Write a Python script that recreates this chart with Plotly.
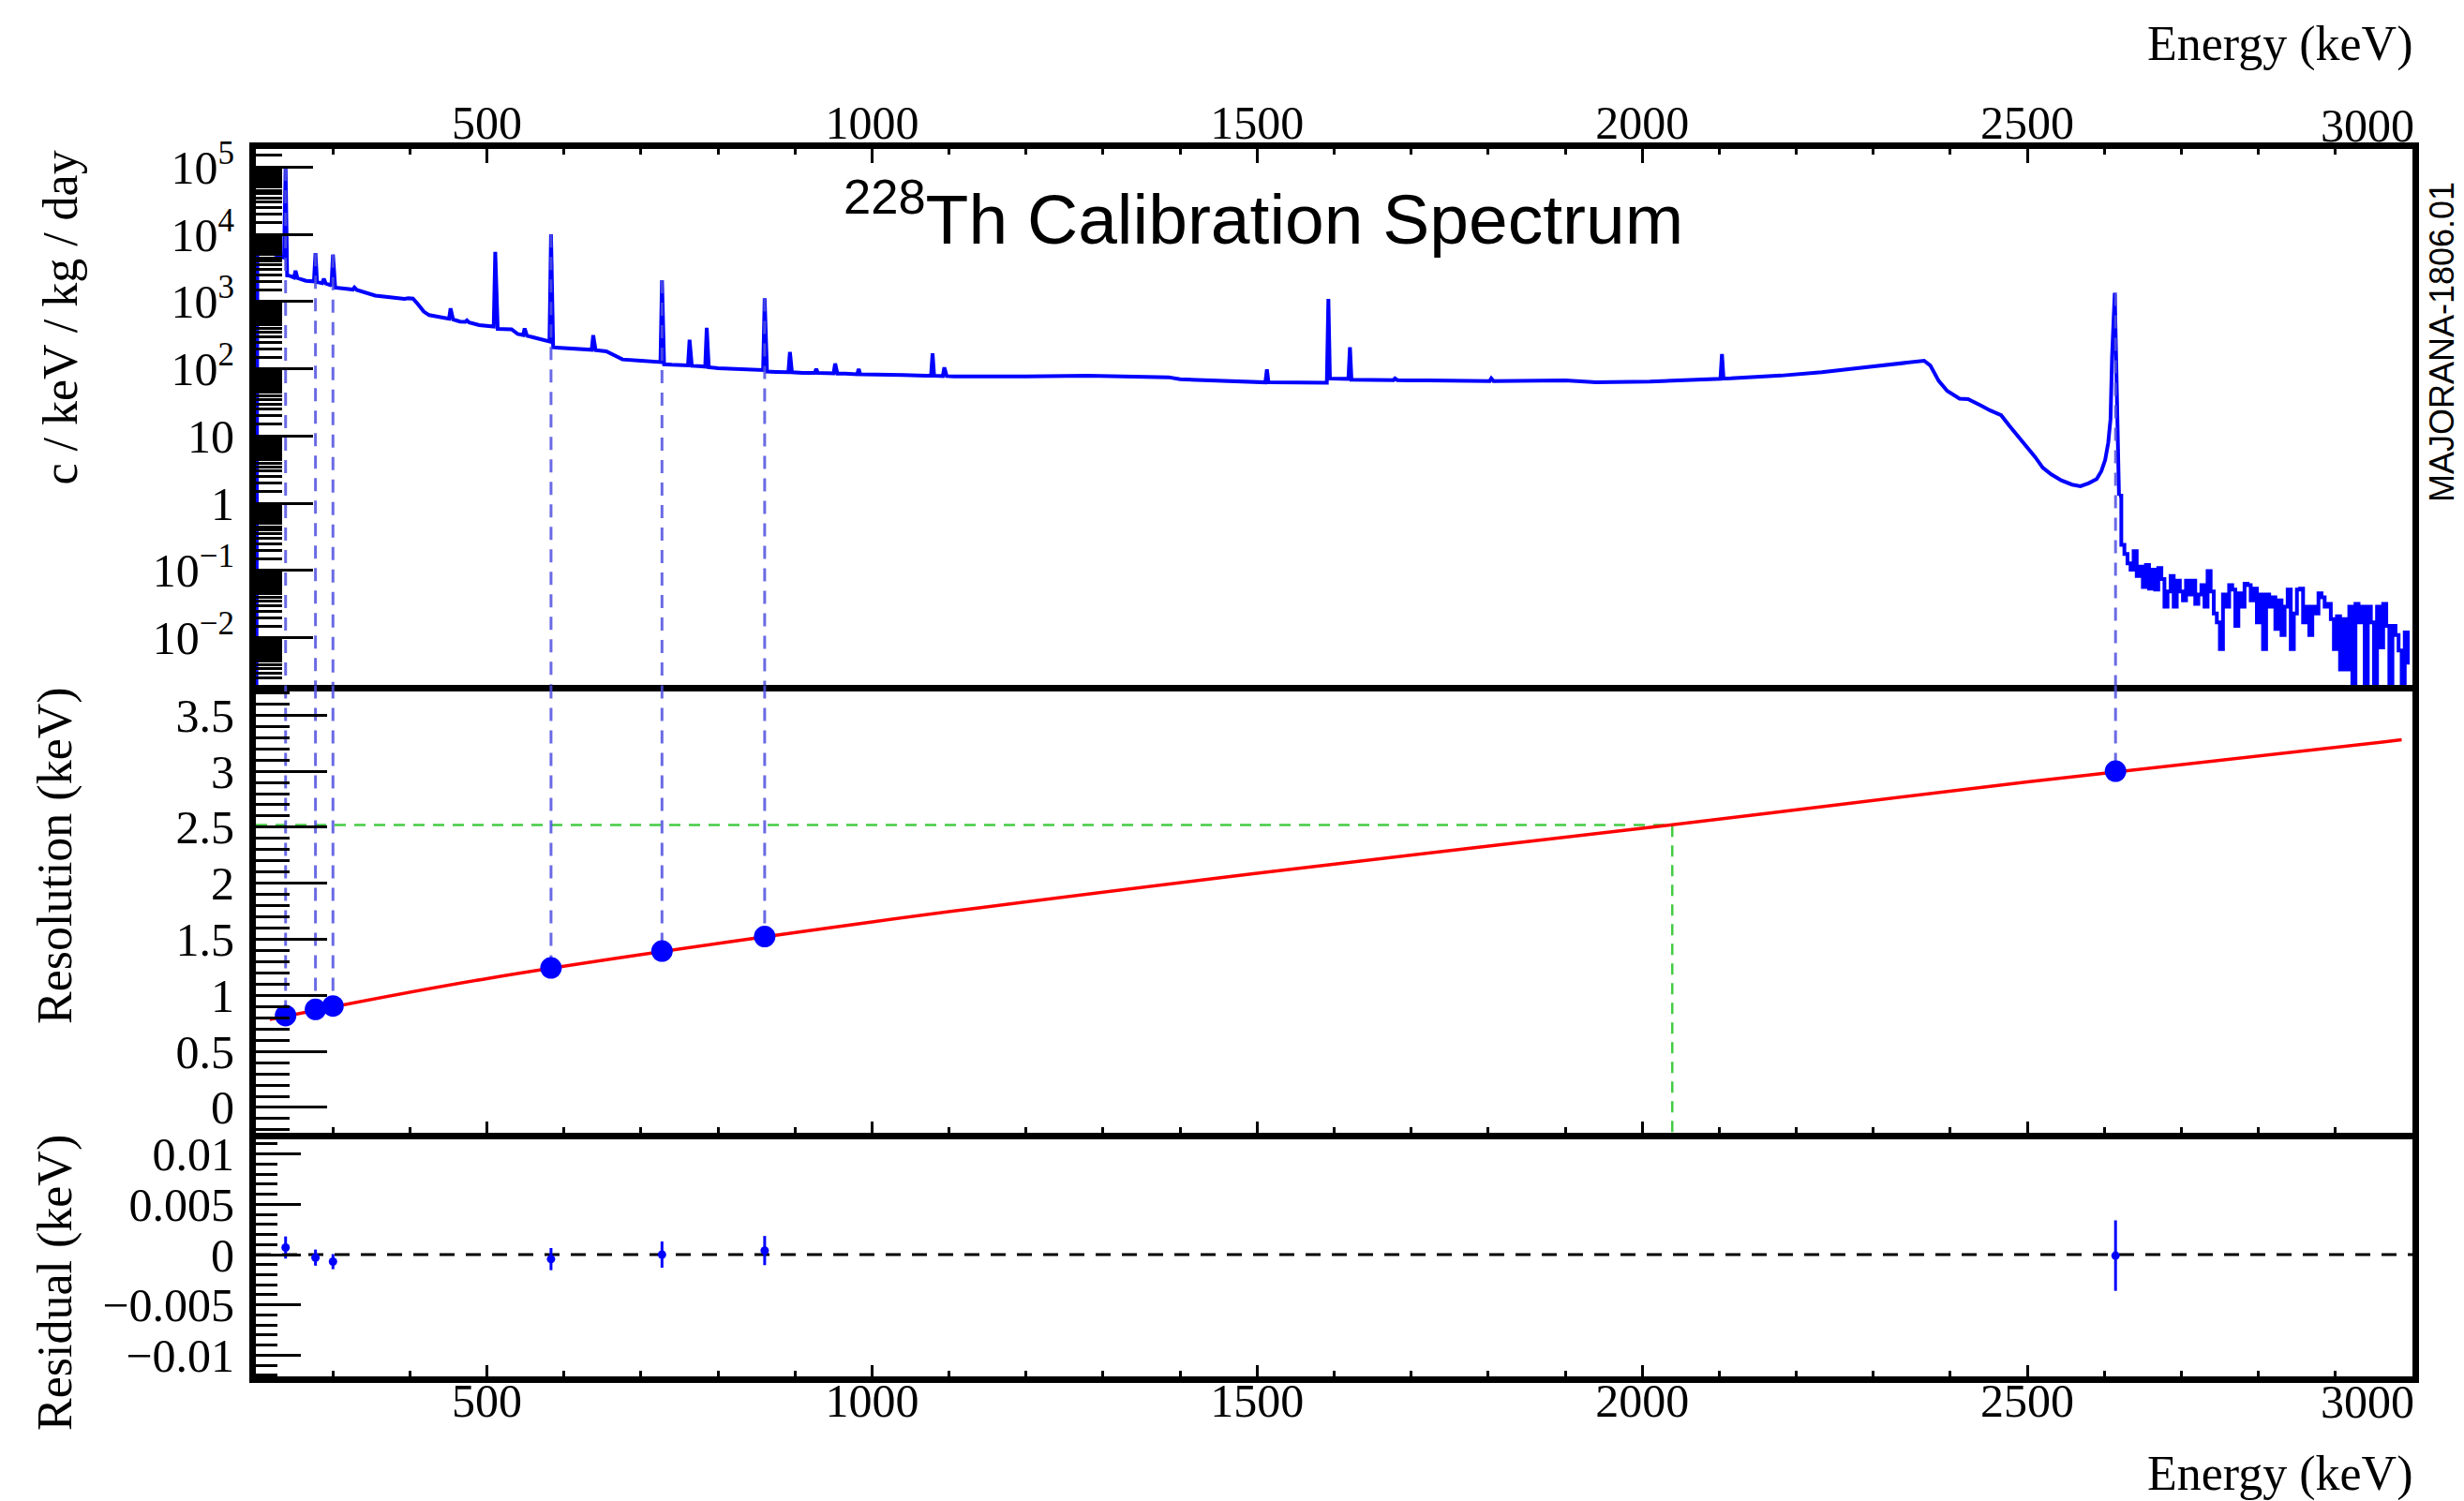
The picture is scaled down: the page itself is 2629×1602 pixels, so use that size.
import plotly.graph_objects as go

# ---------------- data ----------------
# continuum of the 228Th calibration spectrum (energy keV, counts / keV / kg / day)
cont_E = [200.5, 202, 220, 236, 244, 249, 254, 265, 274, 281,
          285.5, 291, 297, 303, 315, 325, 331, 355, 375, 393,
          398, 404, 410, 418, 425, 440, 449, 456, 465, 471,
          477, 490, 505, 514, 522, 532, 540, 546, 552, 560,
          576, 580.5, 586, 595, 620, 635, 641, 655, 665, 676,
          700, 718, 724, 730, 740, 760, 766, 775, 782, 788,
          800, 830, 853, 857.6, 863.6, 875, 890, 896, 910, 924,
          931, 940, 949, 955, 965, 979, 986, 1000, 1040, 1070,
          1075, 1082, 1090, 1097, 1110, 1150, 1200, 1280, 1340, 1385,
          1400, 1450, 1500, 1509, 1516, 1540, 1580, 1589, 1596, 1605,
          1617, 1624, 1630, 1676, 1682, 1700, 1800, 1807, 1900, 1940,
          2010, 2080, 2100, 2107, 2115, 2180, 2233, 2287, 2341, 2366,
          2374, 2385, 2396, 2405, 2412, 2423, 2430, 2439, 2452, 2466,
          2477, 2488, 2499, 2510, 2520, 2531, 2544, 2558, 2569, 2580,
          2590, 2596, 2601, 2605, 2608, 2610, 2613.5, 2615.5, 2619]
cont_cts = [0, 6000, 5250, 4550, 2420, 2300, 2240, 2040, 2000, 1930,
            1890, 1850, 1760, 1620, 1560, 1520, 1490, 1230, 1150, 1100,
            1120, 1110, 930, 710, 630, 575, 560, 545, 505, 500,
            488, 447, 427, 392, 390, 388, 330, 320, 310, 295,
            265, 257, 209, 206, 195, 192, 190, 182, 162, 138,
            132, 127, 126, 117, 115, 113, 111, 110, 108, 106,
            102, 100, 97, 96, 91, 90, 89, 89, 87, 87,
            87, 86, 86, 85, 85, 83, 83, 83, 81, 79,
            79, 79, 78, 78, 77, 76, 77, 79, 78, 75,
            70, 66, 63, 63, 63, 63, 62, 62, 72, 72,
            71, 69, 69, 68, 68, 67.6, 66, 66, 67.6, 63,
            64.6, 70.8, 71, 72, 72.4, 79.4, 89, 105, 123, 132,
            112, 66, 47, 40, 36, 35.5, 32, 28.8, 24, 20.4,
            14.1, 10, 7.0, 4.9, 3.4, 2.7, 2.2, 1.9, 1.8, 2.0,
            2.3, 3.0, 4.4, 7.9, 18, 151, 1350, 59, 1.3]

# gamma lines on top of the continuum
peak_E = [238.6, 251.5, 277.4, 288.2, 300.1, 328.0,
          452.8, 474.0, 510.8, 549.0, 583.2, 638.0,
          727.3, 763.1, 785.4, 860.6, 893.4, 927.6,
          952.1, 982.7, 1078.6, 1093.9, 1512.7, 1592.5,
          1620.5, 1679.0, 1804.0, 2103.5]
peak_top = [98000, 2880, 5250, 2190, 5000, 1620,
            795, 525, 5500, 400, 10000, 316,
            2090, 270, 407, 1120, 178, 100,
            120, 100, 170, 105, 98, 1100,
            209, 72, 72, 166]
peak_left = [4500, 2280, 2000, 1880, 1720, 1510,
             555, 500, 427, 318, 255, 192,
             126, 113, 108, 96, 89, 87,
             86, 83, 79, 78, 63, 62,
             71, 68, 66, 71]
peak_right = [2450, 2250, 1950, 1860, 1650, 1500,
              548, 490, 395, 312, 210, 190,
              117, 111, 106, 91, 89, 87,
              85, 83, 79, 78, 63, 72,
              69, 68, 66, 72]

# high-energy tail above 2614 keV (histogram bins, 4 keV wide)
TAIL_START = 2622
TAIL_BIN = 4.0
tail_cts = [0.242, 0.176, 0.128, 0.103, 0.195, 0.083, 0.115, 0.057, 0.121, 0.054,
            0.103, 0.052, 0.109, 0.075, 0.029, 0.049, 0.083, 0.029, 0.071, 0.049,
            0.036, 0.071, 0.044, 0.071, 0.032, 0.044, 0.061, 0.029, 0.098, 0.049,
            0.023, 0.017, 0.0068, 0.044, 0.029, 0.061, 0.052, 0.015, 0.046, 0.029,
            0.064, 0.061, 0.036, 0.054, 0.017, 0.044, 0.0068, 0.044, 0.029, 0.040,
            0.0136, 0.036, 0.011, 0.029, 0.052, 0.0068, 0.023, 0.052, 0.054, 0.017,
            0.029, 0.011, 0.029, 0.023, 0.046, 0.040, 0.029, 0.032, 0.019, 0.0068,
            0.021, 0.0034, 0.019, 0.0034, 0.029, 0, 0.032, 0.017, 0.029, 0,
            0.029, 0.017, 0, 0.029, 0.0072, 0.032, 0.015, 0, 0.015, 0.011,
            0.0065, 0, 0.012, 0.004]

# calibration peaks used for the resolution fit
cal_E = [238.6, 277.4, 300.1, 583.2, 727.3, 860.6, 2614.5]
cal_peak = [98000, 5250, 5000, 10000, 2090, 1120, 1350]
cal_res = [0.82, 0.875, 0.905, 1.245, 1.395, 1.525, 3.0]
resid = [0.0007, -0.0003, -0.0007, -0.00045, 0.0, 0.0004, -0.0001]
resid_err = [0.0011, 0.0008, 0.00075, 0.0011, 0.0013, 0.00145, 0.0035]

# resolution fit curve
fit_E = [218, 500, 1000, 1500, 2000, 2500, 2986]
fit_res = [0.785, 1.15, 1.655, 2.09, 2.49, 2.905, 3.28]

# Q-value marker
QBB_E = 2039
QBB_RES = 2.52

# tick labels
x_ticks = [500, 1000, 1500, 2000, 2500, 3000]
x_ticktext = ["500", "1000", "1500", "2000", "2500", ""]
X_LAST_LABEL = "3000"   # drawn right-aligned at the axis end, like the original
log_tickvals = [1e-2, 1e-1, 1, 10, 1e2, 1e3, 1e4, 1e5]
log_ticktext = ["10<sup>\u22122</sup>", "10<sup>\u22121</sup>", "1", "10",
                "10<sup>2</sup>", "10<sup>3</sup>", "10<sup>4</sup>", "10<sup>5</sup>"]
res_tickvals = [0, 0.5, 1, 1.5, 2, 2.5, 3, 3.5]
res_ticktext = ["0", "0.5", "1", "1.5", "2", "2.5", "3", "3.5"]
resid_tickvals = [-0.01, -0.005, 0, 0.005, 0.01]
resid_ticktext = ["\u22120.01", "\u22120.005", "0", "0.005", "0.01"]

# ---------------- layout constants ----------------
W, H = 2629, 1602
ML, MR, MT, MB = 273, 55, 159, 133
PH = H - MT - MB
Y_TOP_BOT = 731      # pixel boundary top/middle panel
Y_MID_BOT = 1209     # pixel boundary middle/bottom panel
d_top = (H - MB - Y_TOP_BOT) / PH
d_mid = (H - MB - Y_MID_BOT) / PH

X_RANGE = [200, 3000]
LOG_RANGE = [-2.70, 5.27]
RES_RANGE = [-0.226, 3.77]
RESID_RANGE = [-0.0121, 0.0121]
LOG_FLOOR = 1e-4
PEAK_HW = 2.0
FRAME_W = 7

SERIF = "Liberation Serif"
SANS = "Liberation Sans"
BLUE = "#0000ff"
DASHBLUE = "rgba(80,80,225,0.85)"

# ---------------- build spectrum polyline ----------------
pts = list(zip(cont_E, cont_cts))
for E, top, lo, hi in zip(peak_E, peak_top, peak_left, peak_right):
    pts += [(E - PEAK_HW, lo), (E, top), (E + PEAK_HW, hi)]
pts.sort(key=lambda p: p[0])
spec_x = [p[0] for p in pts]
spec_y = [max(p[1], LOG_FLOOR) for p in pts]

tail_x = [spec_x[-1]] + [TAIL_START + i * TAIL_BIN for i in range(len(tail_cts))]
tail_y = [spec_y[-1]] + [max(v, LOG_FLOOR) for v in tail_cts]

fig = go.Figure()

# spectrum
fig.add_trace(go.Scatter(x=spec_x, y=spec_y, mode="lines",
                         line=dict(color=BLUE, width=4), xaxis="x", yaxis="y",
                         showlegend=False, hoverinfo="skip"))
fig.add_trace(go.Scatter(x=tail_x, y=tail_y, mode="lines",
                         line=dict(color=BLUE, width=4, shape="hv"), xaxis="x", yaxis="y",
                         showlegend=False, hoverinfo="skip"))

# dashed drop lines (top panel)
dx, dy = [], []
for E, h in zip(cal_E, cal_peak):
    dx += [E, E, None]
    dy += [h, LOG_FLOOR, None]
fig.add_trace(go.Scatter(x=dx, y=dy, mode="lines",
                         line=dict(color=DASHBLUE, width=3, dash="14px,10px"),
                         xaxis="x", yaxis="y", showlegend=False, hoverinfo="skip"))

# middle panel: green Q-value lines
fig.add_trace(go.Scatter(x=[X_RANGE[0], QBB_E, QBB_E], y=[QBB_RES, QBB_RES, RES_RANGE[0] - 1],
                         mode="lines", line=dict(color="#44cc44", width=2.5, dash="12px,9px"),
                         xaxis="x2", yaxis="y2", showlegend=False, hoverinfo="skip"))
# dashed drop lines (middle panel)
mx, my = [], []
for E, r in zip(cal_E, cal_res):
    mx += [E, E, None]
    my += [RES_RANGE[1] + 1, r, None]
fig.add_trace(go.Scatter(x=mx, y=my, mode="lines",
                         line=dict(color=DASHBLUE, width=3, dash="14px,10px"),
                         xaxis="x2", yaxis="y2", showlegend=False, hoverinfo="skip"))
# fit
fig.add_trace(go.Scatter(x=fit_E, y=fit_res, mode="lines",
                         line=dict(color="#ff0000", width=3.5, shape="spline"),
                         xaxis="x2", yaxis="y2", showlegend=False, hoverinfo="skip"))
# points
fig.add_trace(go.Scatter(x=cal_E, y=cal_res, mode="markers",
                         marker=dict(color=BLUE, size=23),
                         xaxis="x2", yaxis="y2", showlegend=False))

# bottom panel
fig.add_trace(go.Scatter(x=X_RANGE, y=[0, 0], mode="lines",
                         line=dict(color="black", width=3, dash="16px,12px"),
                         xaxis="x3", yaxis="y3", showlegend=False, hoverinfo="skip"))
fig.add_trace(go.Scatter(x=cal_E, y=resid, mode="markers",
                         marker=dict(color=BLUE, size=9),
                         error_y=dict(type="data", array=resid_err, color=BLUE,
                                      thickness=3, width=0),
                         xaxis="x3", yaxis="y3", showlegend=False))

tickfont = dict(family=SERIF, size=50, color="black")

def xaxis_common(**kw):
    d = dict(range=X_RANGE, showline=True, linecolor="black", linewidth=FRAME_W, mirror=False,
             showgrid=False, zeroline=False, ticks="inside", tickwidth=3, tickcolor="black",
             tickmode="array", tickvals=x_ticks, ticktext=x_ticktext, tickfont=tickfont,
             automargin=False,
             minor=dict(ticks="inside", tickmode="linear", tick0=0, dtick=100,
                        tickwidth=3, tickcolor="black", ticklen=6))
    d.update(kw)
    return d

def yaxis_common(**kw):
    d = dict(showline=True, linecolor="black", linewidth=FRAME_W, mirror=True,
             showgrid=False, zeroline=False, ticks="inside", tickwidth=3, tickcolor="black",
             tickmode="array", tickfont=tickfont, ticklabelstandoff=6, automargin=False)
    d.update(kw)
    return d

log_minor = [m * 10 ** k for k in range(-3, 6) for m in
             (1.5, 2, 2.5, 3, 3.5, 4, 4.5, 5, 5.5, 6, 6.5, 7, 7.5, 8, 8.5, 9, 9.5)]

fig.update_layout(
    width=W, height=H,
    margin=dict(l=ML, r=MR, t=MT, b=MB, autoexpand=False),
    paper_bgcolor="white", plot_bgcolor="white",
    xaxis=xaxis_common(anchor="y", side="top", ticklen=15, mirror=True,
                       ticklabelstandoff=-16),
    xaxis2=xaxis_common(anchor="y2", matches="x", showticklabels=False, ticklen=12),
    xaxis3=xaxis_common(anchor="y3", matches="x", side="bottom", ticklen=12,
                        ticklabelstandoff=-24),
    yaxis=yaxis_common(domain=[d_top, 1], type="log", range=LOG_RANGE,
                       tickvals=log_tickvals, ticktext=log_ticktext, ticklen=61,
                       minor=dict(ticks="inside", tickmode="array", tickvals=log_minor,
                                  ticklen=28, tickwidth=2.5, tickcolor="black")),
    yaxis2=yaxis_common(domain=[d_mid, d_top], range=RES_RANGE,
                        tickvals=res_tickvals, ticktext=res_ticktext, ticklen=76,
                        minor=dict(ticks="inside", tickmode="linear", tick0=0, dtick=0.1,
                                   ticklen=36, tickwidth=3, tickcolor="black")),
    yaxis3=yaxis_common(domain=[0, d_mid], range=RESID_RANGE,
                        tickvals=resid_tickvals, ticktext=resid_ticktext, ticklen=48,
                        minor=dict(ticks="inside", tickmode="linear", tick0=0, dtick=0.001,
                                   ticklen=23, tickwidth=3, tickcolor="black")),
)

titlefont = dict(family=SERIF, size=52, color="black")
ann = [
    dict(text=X_LAST_LABEL, xref="x", yref="paper", x=X_RANGE[1], y=1,
         xanchor="right", yanchor="middle", xshift=4, yshift=25,
         showarrow=False, font=tickfont),
    dict(text=X_LAST_LABEL, xref="x3", yref="paper", x=X_RANGE[1], y=0,
         xanchor="right", yanchor="middle", xshift=4, yshift=-27,
         showarrow=False, font=tickfont),
    dict(text="Energy (keV)", xref="paper", yref="paper", x=1, y=1, xanchor="right",
         yanchor="middle", xshift=3, yshift=112, showarrow=False, font=titlefont),
    dict(text="Energy (keV)", xref="paper", yref="paper", x=1, y=0, xanchor="right",
         yanchor="middle", xshift=3, yshift=-104, showarrow=False, font=titlefont),
    dict(text="c / keV / kg / day", xref="paper", yref="y domain", x=0, y=1,
         xanchor="center", yanchor="top", xshift=-209, textangle=-90,
         showarrow=False, font=titlefont),
    dict(text="Resolution (keV)", xref="paper", yref="y2 domain", x=0, y=1,
         xanchor="center", yanchor="top", xshift=-214, textangle=-90,
         showarrow=False, font=titlefont),
    dict(text="Residual (keV)", xref="paper", yref="y3 domain", x=0, y=1,
         xanchor="center", yanchor="top", xshift=-214, textangle=-90,
         showarrow=False, font=titlefont),
    dict(text="<sup>228</sup>Th Calibration Spectrum", xref="paper", yref="paper",
         x=(1348 - ML) / (W - ML - MR), y=(H - MB - 228) / PH,
         xanchor="center", yanchor="middle", showarrow=False,
         font=dict(family=SANS, size=75, color="black")),
    dict(text="MAJORANA-1806.01", xref="paper", yref="paper",
         x=(2605 - ML) / (W - ML - MR), y=(H - MB - 365) / PH,
         xanchor="center", yanchor="middle", textangle=-90, showarrow=False,
         font=dict(family=SANS, size=36, color="black")),
]
fig.update_layout(annotations=ann)

fig.write_html("out.html")
